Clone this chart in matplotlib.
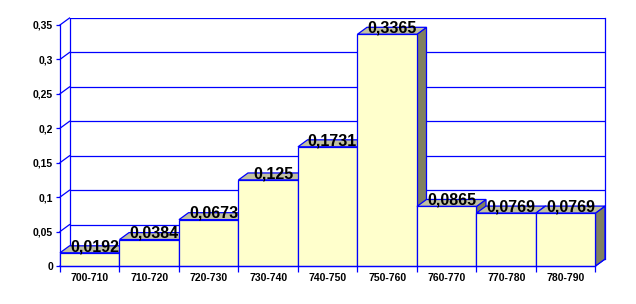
import matplotlib
matplotlib.use('Agg')
import matplotlib.pyplot as plt
from matplotlib.patches import Polygon

plt.rcParams['font.family'] = ['Liberation Sans', 'DejaVu Sans']

# dados
categorias = ['700-710', '710-720', '720-730', '730-740', '740-750',
              '750-760', '760-770', '770-780', '780-790']
valores = [0.0192, 0.0384, 0.0673, 0.125, 0.1731, 0.3365, 0.0865, 0.0769, 0.0769]
rotulos = ['0,0192', '0,0384', '0,0673', '0,125', '0,1731', '0,3365', '0,0865', '0,0769', '0,0769']
y_ticks = [0, 0.05, 0.1, 0.15, 0.2, 0.25, 0.3, 0.35]
y_rotulos = ['0', '0,05', '0,1', '0,15', '0,2', '0,25', '0,3', '0,35']

# estilo 3D falso (tipo Excel)
dx, dy = 0.16, 0.0101
azul = '#0000FF'
frente = '#FFFFCC'
topo = '#C0C0A0'
lado = '#808060'
lw = 0.9

fig = plt.figure(figsize=(6.36, 3.04), dpi=100)
ax = fig.add_axes([60 / 636, 38 / 304, 545 / 636, 248 / 304])
n = len(categorias)
ax.set_xlim(0, n + dx)
ax.set_ylim(0, 0.35 + dy)
for s in ax.spines.values():
    s.set_visible(False)

# parede do fundo e grade
for y in y_ticks:
    ax.plot([dx, n + dx], [y + dy, y + dy], color=azul, lw=lw, zorder=1)
    ax.plot([0, dx], [y, y + dy], color=azul, lw=lw, zorder=1, clip_on=False)
ax.plot([dx, dx], [dy, 0.35 + dy], color=azul, lw=lw, zorder=1)
ax.plot([n + dx, n + dx], [dy, 0.35 + dy], color=azul, lw=lw, zorder=1, clip_on=False)
ax.plot([0, 0], [0, 0.35], color=azul, lw=lw, zorder=1, clip_on=False)
ax.plot([n, n + dx], [0, dy], color=azul, lw=lw, zorder=1, clip_on=False)

# barras
z = 2
for i, v in enumerate(valores):
    x0, x1 = i, i + 1
    ax.add_patch(Polygon([(x1, 0), (x1 + dx, dy), (x1 + dx, v + dy), (x1, v)],
                         facecolor=lado, edgecolor=azul, lw=lw, zorder=z, clip_on=False))
    ax.add_patch(Polygon([(x0, v), (x0 + dx, v + dy), (x1 + dx, v + dy), (x1, v)],
                         facecolor=topo, edgecolor=azul, lw=lw, zorder=z, clip_on=False))
    ax.add_patch(Polygon([(x0, 0), (x0, v), (x1, v), (x1, 0)],
                         facecolor=frente, edgecolor=azul, lw=lw, zorder=z, clip_on=False))
    z += 1

ax.plot([0, n], [0, 0], color=azul, lw=lw, zorder=50, clip_on=False)

for i, v in enumerate(valores):
    ax.text(i + 0.5 + dx / 2, v + dy * 0.9, rotulos[i], ha='center', va='center',
            fontsize=11.5, fontweight='bold', color='black', zorder=60)

ax.set_xticks([i + 0.5 for i in range(n)])
ax.set_xticklabels(categorias, fontsize=7.5, fontweight='bold')
ax.set_xticks(list(range(n + 1)), minor=True)
ax.tick_params(axis='x', which='major', length=0, pad=5)
ax.tick_params(axis='x', which='minor', length=4, color=azul, width=lw)
ax.set_yticks(y_ticks)
ax.set_yticklabels(y_rotulos, fontsize=7.5, fontweight='bold')
ax.tick_params(axis='y', length=3, color=azul, width=lw, pad=2)

fig.savefig('out.png', dpi=100)
